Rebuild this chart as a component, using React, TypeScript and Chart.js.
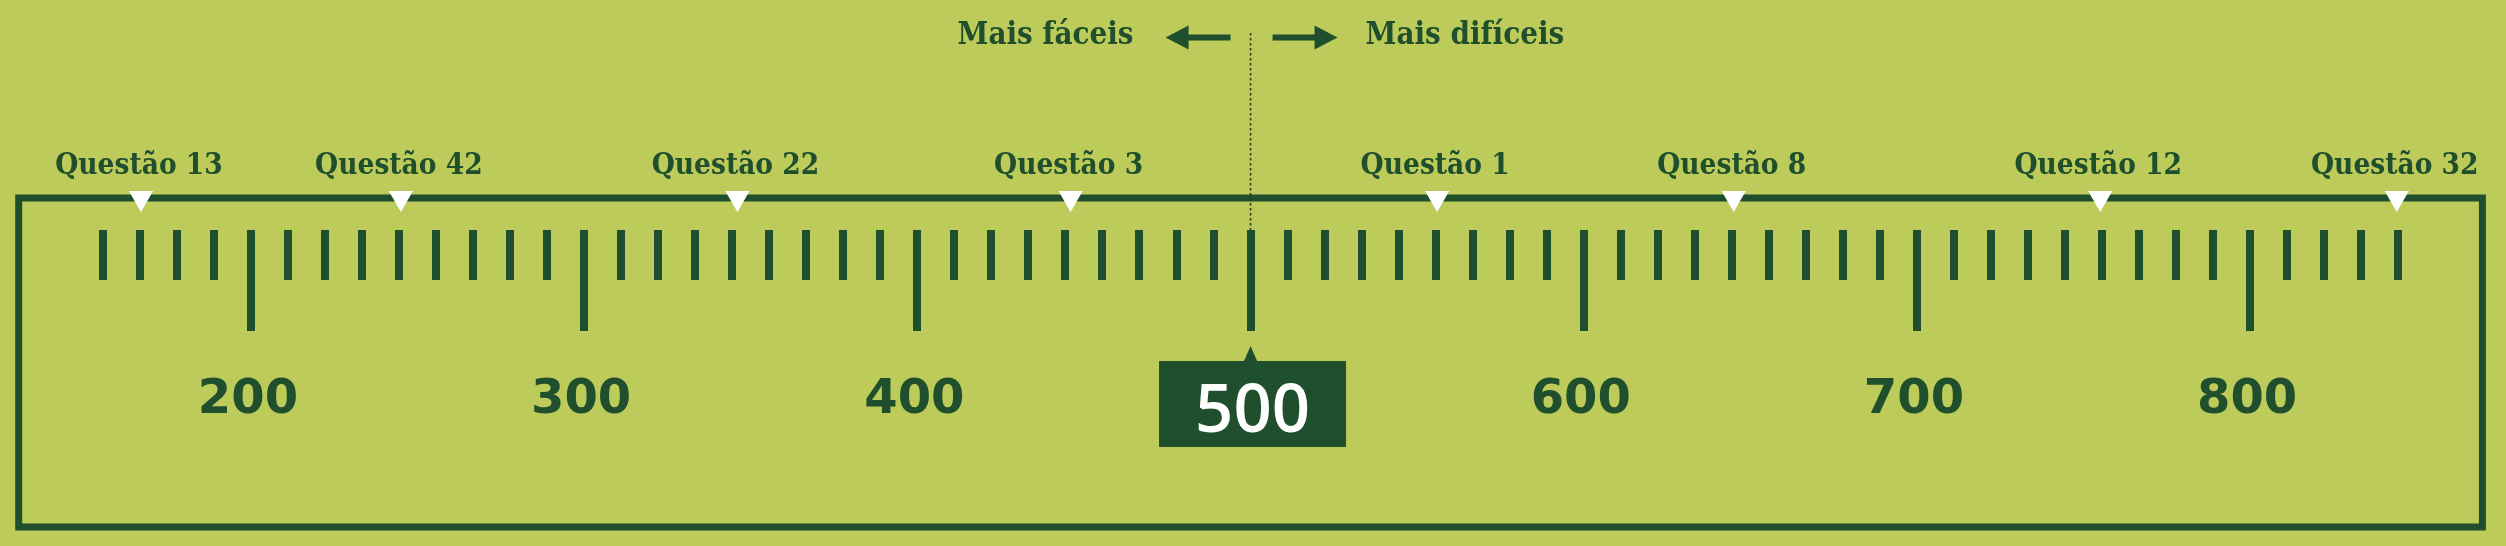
import React, { useEffect, useRef } from "react";
import { Chart, registerables } from "chart.js";

Chart.register(...registerables);

// ---- data ----
const QUESTION_LABELS = [
  "Questão 13",
  "Questão 42",
  "Questão 22",
  "Questão 3",
  "Questão 1",
  "Questão 8",
  "Questão 12",
  "Questão 32",
];
const QUESTION_SCORES = [167, 245, 346, 446, 556, 645, 755, 844];
const SCALE_LABELS = [200, 300, 400, 500, 600, 700, 800];
const HIGHLIGHT_SCORE = 500;
const LEFT_TEXT = "Mais fáceis";
const RIGHT_TEXT = "Mais difíceis";

// ---- axis configuration ----
const SCALE_MIN = 130;
const SCALE_MAX = 870;
const MINOR_STEP = 100 / 9;
const RULER_START = 155;
const RULER_END = 845;

// ---- styles ----
const BG = "#bdcb5a";
const DARK = "#1f4f2c";
const SLAB = '"DejaVu Serif Condensed", "DejaVu Serif", serif';
const SANS = '"DejaVu Sans", sans-serif';

function isMajor(v: number) {
  return Math.abs(v / 100 - Math.round(v / 100)) < 1e-6;
}

const rulerPlugin = {
  id: "ruler",
  beforeDraw(chart: any) {
    const { ctx, chartArea, width, height } = chart;
    const xs = chart.scales.x;
    ctx.save();
    ctx.fillStyle = BG;
    ctx.fillRect(0, 0, width, height);

    // frame
    ctx.strokeStyle = DARK;
    ctx.lineWidth = 7;
    ctx.strokeRect(
      chartArea.left + 1,
      chartArea.top,
      chartArea.right - chartArea.left - 2,
      chartArea.bottom - chartArea.top
    );

    // ruler ticks from the scale
    const tTop = chartArea.top + 32;
    ctx.fillStyle = DARK;
    for (const t of xs.ticks) {
      const v = t.value;
      if (v < RULER_START || v > RULER_END) continue;
      const px = xs.getPixelForValue(v);
      const len = isMajor(v) ? 101 : 50;
      ctx.fillRect(Math.round(px - 4), tTop, 8, len);
    }

    // labels
    ctx.textAlign = "center";
    ctx.textBaseline = "alphabetic";
    for (const v of SCALE_LABELS) {
      const px = xs.getPixelForValue(v);
      if (v === HIGHLIGHT_SCORE) {
        const bw = 187, bh = 86, by = chartArea.top + 163;
        ctx.fillStyle = DARK;
        ctx.fillRect(px - bw / 2 + 2, by, bw, bh);
        ctx.beginPath();
        ctx.moveTo(px - 7, by + 1);
        ctx.lineTo(px, by - 15);
        ctx.lineTo(px + 7, by + 1);
        ctx.closePath();
        ctx.fill();
        ctx.fillStyle = "#ffffff";
        ctx.font = `600 67px "Open Sans", ${SANS}`;
        ctx.fillText(String(v), px + 2, by + 71);
      } else {
        ctx.fillStyle = DARK;
        ctx.font = `bold 48px ${SANS}`;
        ctx.fillText(String(v), px - 3, chartArea.top + 215);
      }
    }

    // dotted line and arrows at the highlighted score
    const hx = xs.getPixelForValue(HIGHLIGHT_SCORE);
    ctx.strokeStyle = "#2b3a22";
    ctx.lineWidth = 1.6;
    ctx.setLineDash([2.5, 2.5]);
    ctx.beginPath();
    ctx.moveTo(hx, 33);
    ctx.lineTo(hx, tTop);
    ctx.stroke();
    ctx.setLineDash([]);

    const ay = 37.5;
    ctx.fillStyle = DARK;
    // left arrow
    ctx.fillRect(hx - 64, ay - 3, 44, 6);
    ctx.beginPath();
    ctx.moveTo(hx - 85, ay);
    ctx.lineTo(hx - 62, ay - 12);
    ctx.lineTo(hx - 62, ay + 12);
    ctx.closePath();
    ctx.fill();
    // right arrow
    ctx.fillRect(hx + 22, ay - 3, 44, 6);
    ctx.beginPath();
    ctx.moveTo(hx + 87, ay);
    ctx.lineTo(hx + 64, ay - 12);
    ctx.lineTo(hx + 64, ay + 12);
    ctx.closePath();
    ctx.fill();

    ctx.font = `bold 31px ${SLAB}`;
    ctx.textAlign = "right";
    ctx.fillText(LEFT_TEXT, hx - 117, 44);
    ctx.textAlign = "left";
    ctx.fillText(RIGHT_TEXT, hx + 115, 44);
    ctx.restore();
  },
  afterDraw(chart: any) {
    const { ctx, chartArea } = chart;
    const xs = chart.scales.x;
    ctx.save();
    ctx.fillStyle = DARK;
    ctx.font = `bold 29.5px ${SLAB}`;
    ctx.textAlign = "center";
    ctx.textBaseline = "alphabetic";
    QUESTION_SCORES.forEach((v, i) => {
      ctx.fillText(QUESTION_LABELS[i], xs.getPixelForValue(v) - 2, chartArea.top - 24);
    });
    ctx.restore();
  },
};

export default function App() {
  const ref = useRef<HTMLCanvasElement | null>(null);
  useEffect(() => {
    if (!ref.current) return;
    const chart = new Chart(ref.current, {
      type: "scatter",
      data: {
        datasets: [
          {
            label: "Questões",
            data: QUESTION_SCORES.map((x) => ({ x, y: 1 })),
            pointStyle: "triangle",
            rotation: 180,
            pointRadius: 14,
            pointHoverRadius: 14,
            backgroundColor: "#ffffff",
            borderWidth: 0,
            clip: false,
          } as any,
        ],
      },
      options: {
        responsive: false,
        animation: false,
        events: [],
        layout: { padding: { left: 17.7, right: 22.6, top: 198, bottom: 19 } },
        plugins: { legend: { display: false }, tooltip: { enabled: false } },
        scales: {
          x: {
            type: "linear",
            display: false,
            min: SCALE_MIN,
            max: SCALE_MAX,
            ticks: { stepSize: MINOR_STEP },
          },
          y: { type: "linear", display: false, min: 0, max: 1 },
        },
      },
      plugins: [rulerPlugin],
    });
    return () => chart.destroy();
  }, []);
  return (
    <div style={{ position: "absolute", left: 0, top: 0, width: 2506, height: 546 }}>
      <canvas ref={ref} width={2506} height={546} style={{ display: "block" }} />
    </div>
  );
}
